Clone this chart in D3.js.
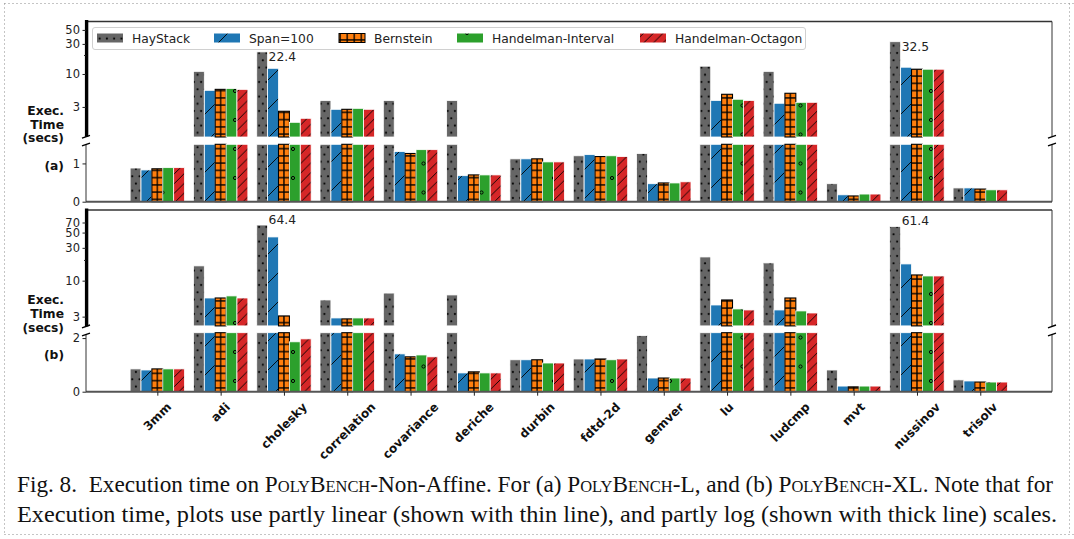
<!DOCTYPE html>
<html>
<head>
<meta charset="utf-8">
<script src="https://cdn.jsdelivr.net/npm/d3@7"></script>
<style>
  body { margin: 0; background: #fff; }
  svg { display: block; }
</style>
</head>
<body>
<svg id="chart" width="1074" height="539"></svg>
<script>
// ---- data -----------------------------------------------------------------
const categories = ["3mm", "adi", "cholesky", "correlation", "covariance", "deriche", "durbin",
  "fdtd-2d", "gemver", "lu", "ludcmp", "mvt", "nussinov", "trisolv"];
const seriesNames = ["HayStack", "Span=100", "Bernstein", "Handelman-Interval", "Handelman-Octagon"];

// (a) PolyBench-L, execution time in seconds
const largeHayStack   = [0.88, 11.0, 22.4, 3.8, 3.8, 3.8, 1.12, 1.20, 1.26, 13.3, 11.0, 0.47, 32.5, 0.36];
const largeSpan100    = [0.83, 5.5, 12.3, 2.75, 1.31, 0.68, 1.12, 1.23, 0.47, 3.8, 3.43, 0.18, 12.8, 0.36];
const largeBernstein  = [0.86, 5.7, 2.56, 2.75, 1.26, 0.70, 1.12, 1.18, 0.49, 4.76, 4.94, 0.15, 11.9, 0.33];
const largeHInterval  = [0.89, 5.9, 1.71, 2.85, 1.36, 0.70, 1.04, 1.20, 0.49, 3.97, 3.55, 0.20, 11.9, 0.31];
const largeHOctagon   = [0.89, 5.7, 1.98, 2.75, 1.36, 0.70, 1.04, 1.18, 0.52, 3.8, 3.55, 0.20, 11.9, 0.31];

// (b) PolyBench-XL, execution time in seconds
const xlHayStack  = [0.85, 16.4, 64.4, 5.24, 6.6, 6.2, 1.19, 1.22, 2.09, 22.1, 18.1, 0.81, 61.4, 0.44];
const xlSpan100   = [0.81, 5.6, 43.2, 2.87, 1.41, 0.70, 1.19, 1.22, 0.51, 4.43, 3.75, 0.21, 17.5, 0.40];
const xlBernstein = [0.85, 5.6, 3.07, 2.78, 1.30, 0.74, 1.19, 1.22, 0.51, 5.24, 5.6, 0.18, 12.1, 0.36];
const xlHInterval = [0.85, 6.0, 1.86, 2.87, 1.37, 0.70, 1.07, 1.19, 0.51, 3.88, 3.63, 0.21, 11.7, 0.36];
const xlHOctagon  = [0.85, 5.6, 1.97, 2.87, 1.30, 0.70, 1.07, 1.22, 0.51, 3.75, 3.39, 0.21, 11.7, 0.36];

// axis ticks
const logTicksA = [3, 10, 30, 50];
const logTicksB = [3, 10, 30, 50, 70];
const minorTicks = [20];
const linTicksA = [0, 1];
const linTicksB = [0, 2];

// value callouts (HayStack bars)
const calloutsA = ["cholesky", "nussinov"];
const calloutsB = ["cholesky", "nussinov"];

// ---- drawing ----------------------------------------------------------------
const svg = d3.select("#chart");
const defs = svg.append("defs");
const FONT = "DejaVu Sans, Verdana, sans-serif";

const left = 86, right = 1052;
const x = d3.scaleLinear().domain([-1.127, 14.133]).range([left, right]);
const slot = 0.172;
const bw = x(slot) - x(0);
const step = x(1) - x(0);

const colors = ["#666666", "#1f77b4", "#ff7f0e", "#2ca02c", "#d62728"];
const edge = ["#ffffff", "#ffffff", "#000000", "#ffffff", "#ffffff"];

// hatch patterns
function pattern(id, w, h, draw, x0 = 0) {
  const p = defs.append("pattern").attr("id", id)
    .attr("patternUnits", "userSpaceOnUse")
    .attr("x", x0).attr("width", w).attr("height", h);
  draw(p);
}
// dots
pattern("hatch0", 7.25, 14.5, p => {
  p.append("rect").attr("width", 7.25).attr("height", 14.5).attr("fill", colors[0]);
  [[1.8, 2.2], [5.4, 9.45]].forEach(([cx, cy]) =>
    p.append("circle").attr("cx", cx).attr("cy", cy).attr("r", 1.1).attr("fill", "#000"));
});
// single diagonal
pattern("hatch1", 29, 29, p => {
  p.append("rect").attr("width", 29).attr("height", 29).attr("fill", colors[1]);
  p.append("path").attr("d", "M-2,31L31,-2").attr("stroke", "#000").attr("stroke-width", 0.9);
});
// grid, centred on each category
pattern("hatch2", step / 9, 7.25, p => {
  const w = step / 9;
  p.append("rect").attr("width", w).attr("height", 7.25).attr("fill", colors[2]);
  p.append("path").attr("d", `M${w / 2},0V7.25M0,3.6H${w}`).attr("stroke", "#000").attr("stroke-width", 1.3);
}, x(0) - step / 18);
// small rings
pattern("hatch3", 29, 29, p => {
  p.append("rect").attr("width", 29).attr("height", 29).attr("fill", colors[3]);
  [[3, 4], [17.5, 18.5]].forEach(([cx, cy]) =>
    p.append("circle").attr("cx", cx).attr("cy", cy).attr("r", 1.6)
      .attr("fill", "none").attr("stroke", "#000").attr("stroke-width", 1));
});
// dense diagonals
pattern("hatch4", 9.67, 9.67, p => {
  p.append("rect").attr("width", 9.67).attr("height", 9.67).attr("fill", colors[4]);
  p.append("path").attr("d", "M-2,11.67L11.67,-2M-2,2L2,-2M7.67,11.67L11.67,7.67")
    .attr("stroke", "#000").attr("stroke-width", 0.9);
});

const panels = [
  {
    tag: "(a)", series: [largeHayStack, largeSpan100, largeBernstein, largeHInterval, largeHOctagon],
    logDomain: [1, 68], logRange: [137, 21.5], linDomain: [0, 1.5], linRange: [201.7, 144.3],
    logTicks: logTicksA, linTicks: linTicksA, frameTop: 21.5, breakHi: 136.8, breakLo: 144.5,
    callouts: calloutsA, calloutDy: 9.5, labelY: [111, 124.5, 138], tagY: 166, xTicks: false
  },
  {
    tag: "(b)", series: [xlHayStack, xlSpan100, xlBernstein, xlHInterval, xlHOctagon],
    logDomain: [2.2, 105], logRange: [325.9, 210.4], linDomain: [0, 2.2], linRange: [391.7, 332.7],
    logTicks: logTicksB, linTicks: linTicksB, frameTop: 210, breakHi: 326.4, breakLo: 334.5,
    callouts: calloutsB, calloutDy: -1, labelY: [300, 313.7, 327.7], tagY: 355, xTicks: true
  }
];

panels.forEach(P => {
  const g = svg.append("g");
  const yLog = d3.scaleLog().domain(P.logDomain).range(P.logRange);
  const yLin = d3.scaleLinear().domain(P.linDomain).range(P.linRange);
  const linMax = P.linDomain[1];
  const base = yLin(0);

  // bars: linear segment from 0, log segment above the break when needed
  P.series.forEach((vals, k) => {
    const bars = g.append("g");
    vals.forEach((v, i) => {
      const cx = x(i + (k - 2) * slot);
      const x0 = cx - bw / 2;
      const segs = [[yLin(Math.min(v, linMax)), base]];
      if (v > linMax) segs.push([yLog(v), yLog(P.logDomain[0])]);
      segs.forEach(([y0, y1]) => {
        bars.append("rect")
          .attr("x", x0).attr("y", y0).attr("width", bw).attr("height", y1 - y0)
          .attr("fill", `url(#hatch${k})`)
          .attr("stroke", edge[k]).attr("stroke-width", k === 2 ? 1.1 : 0.8);
      });
    });
  });

  // value callouts
  P.callouts.forEach(name => {
    const i = categories.indexOf(name);
    const v = P.series[0][i];
    g.append("text")
      .attr("x", x(i - 2 * slot) + bw / 2 + 1)
      .attr("y", yLog(v) + P.calloutDy)
      .attr("font-family", FONT).attr("font-size", 12.3).attr("fill", "#222")
      .text(v.toFixed(1));
  });

  // frame lines
  g.append("line").attr("x1", left).attr("x2", right).attr("y1", P.frameTop).attr("y2", P.frameTop)
    .attr("stroke", "#333").attr("stroke-width", 1.4);
  g.append("line").attr("x1", left).attr("x2", right).attr("y1", base).attr("y2", base)
    .attr("stroke", "#555").attr("stroke-width", 2);
  // log part: thick spine on the left, thin on the right
  g.append("line").attr("x1", left + 0.6).attr("x2", left + 0.6).attr("y1", P.frameTop - 1.5).attr("y2", P.breakHi)
    .attr("stroke", "#000").attr("stroke-width", 3.4);
  g.append("line").attr("x1", right).attr("x2", right).attr("y1", P.frameTop).attr("y2", P.breakHi)
    .attr("stroke", "#333").attr("stroke-width", 1);
  // linear part: thin spines, with break marks on both sides
  [left, right].forEach(sx => {
    g.append("line").attr("x1", sx).attr("x2", sx).attr("y1", P.breakLo).attr("y2", base)
      .attr("stroke", "#333").attr("stroke-width", 1);
    [P.breakHi, P.breakLo].forEach(by => {
      g.append("line").attr("x1", sx - 4).attr("x2", sx + 4).attr("y1", by + 1.4).attr("y2", by - 1.4)
        .attr("stroke", "#000").attr("stroke-width", 1.4);
    });
  });

  // y axes
  const styleAxis = sel => {
    sel.select(".domain").remove();
    sel.selectAll("line").attr("stroke", "#222").attr("stroke-width", 1);
    sel.selectAll("text").attr("font-family", FONT).attr("font-size", 11.5).attr("fill", "#222");
  };
  g.append("g").attr("transform", `translate(${left},0)`)
    .call(d3.axisLeft(yLog).tickValues(P.logTicks).tickFormat(d3.format("d")).tickSize(3.5).tickPadding(2.5))
    .call(styleAxis);
  g.append("g").attr("transform", `translate(${left},0)`)
    .call(d3.axisLeft(yLog).tickValues(minorTicks).tickFormat("").tickSize(2))
    .call(styleAxis);
  g.append("g").attr("transform", `translate(${left},0)`)
    .call(d3.axisLeft(yLin).tickValues(P.linTicks).tickFormat(d3.format("d")).tickSize(3.5).tickPadding(2.5))
    .call(styleAxis);

  // axis title and panel tag
  ["Exec.", "Time", "(secs)"].forEach((t, j) => {
    g.append("text").attr("x", 64).attr("y", P.labelY[j]).attr("dy", "0.35em")
      .attr("text-anchor", "end").attr("font-family", FONT).attr("font-weight", "bold")
      .attr("font-size", 12.3).attr("fill", "#111").text(t);
  });
  g.append("text").attr("x", 64).attr("y", P.tagY).attr("dy", "0.35em")
    .attr("text-anchor", "end").attr("font-family", FONT).attr("font-weight", "bold")
    .attr("font-size", 12.3).attr("fill", "#111").text(P.tag);

  // x axis (bottom panel only), labels rotated 45 degrees and centred under each tick
  if (P.xTicks) {
    const xa = g.append("g").attr("transform", `translate(0,${base})`)
      .call(d3.axisBottom(x).tickValues(d3.range(categories.length)).tickFormat("").tickSize(4));
    xa.select(".domain").remove();
    xa.selectAll("line").attr("stroke", "#222");
    const fs = 12;
    categories.forEach((c, i) => {
      const t = g.append("text")
        .attr("font-family", FONT).attr("font-weight", "bold").attr("font-size", fs)
        .attr("fill", "#111").attr("text-anchor", "middle").attr("dominant-baseline", "central")
        .text(c);
      const w = t.node().getComputedTextLength();
      const half = (w + fs * 0.8) * Math.SQRT1_2 / 2;
      t.attr("transform", `translate(${x(i)},${401.5 + half}) rotate(-45)`);
    });
  }
});

// legend (top panel)
const leg = svg.append("g");
leg.append("rect").attr("x", 92.5).attr("y", 27.5).attr("width", 713).attr("height", 22).attr("rx", 2.5)
  .attr("fill", "#fff").attr("fill-opacity", 0.85).attr("stroke", "#d0d0d0").attr("stroke-width", 1);
const swatchX = [97, 214, 339, 457, 640];
seriesNames.forEach((name, k) => {
  leg.append("rect").attr("x", swatchX[k]).attr("y", 33.5).attr("width", 26).attr("height", 9)
    .attr("fill", `url(#hatch${k})`).attr("stroke", edge[k]).attr("stroke-width", k === 2 ? 1 : 0);
  leg.append("text").attr("x", swatchX[k] + 35).attr("y", 38.3).attr("dy", "0.35em")
    .attr("font-family", FONT).attr("font-size", 12.3).attr("fill", "#222").text(name);
});

// caption
const cap = svg.append("g").attr("font-family", "Liberation Serif, serif").attr("font-size", 24).attr("fill", "#111");
const line1 = cap.append("text").attr("x", 17).attr("y", 492)
  .attr("textLength", 1036).attr("lengthAdjust", "spacingAndGlyphs");
const parts1 = [["Fig. 8.\u2002Execution time on ", false], ["PolyBench", true], ["-Non-Affine. For (a) ", false],
  ["PolyBench", true], ["-L, and (b) ", false], ["PolyBench", true], ["-XL. Note that for", false]];
parts1.forEach(([t, sc]) => {
  const s = line1.append("tspan").text(t);
  if (sc) s.style("font-variant", "small-caps");
});
cap.append("text").attr("x", 17).attr("y", 522)
  .attr("textLength", 1040).attr("lengthAdjust", "spacingAndGlyphs")
  .text("Execution time, plots use partly linear (shown with thin line), and partly log (shown with thick line) scales.");

// dotted page border
const border = svg.append("g").attr("stroke", "#8a8a8a").attr("stroke-width", 1).attr("stroke-dasharray", "1,3");
border.append("line").attr("x1", 4.5).attr("x2", 1074).attr("y1", 3.5).attr("y2", 3.5);
border.append("line").attr("x1", 4.5).attr("x2", 4.5).attr("y1", 3.5).attr("y2", 534);
border.append("line").attr("x1", 4.5).attr("x2", 1074).attr("y1", 534.5).attr("y2", 534.5);
border.append("line").attr("x1", 1069.5).attr("x2", 1069.5).attr("y1", 3.5).attr("y2", 534);
</script>
</body>
</html>
